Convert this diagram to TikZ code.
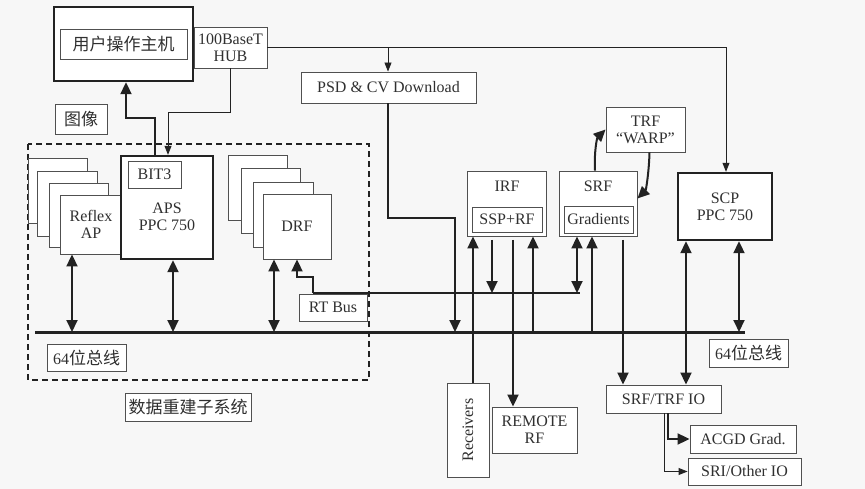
\documentclass[tikz,border=0pt]{standalone}
\usepackage{fontspec}
\setmainfont{Liberation Serif}
\newfontfamily\cjk{Noto Sans CJK SC}
\usetikzlibrary{arrows.meta}
\definecolor{bgc}{HTML}{F7F7F7}
\definecolor{lcol}{HTML}{222222}
\definecolor{bcol}{HTML}{505050}
\definecolor{tcol}{HTML}{303030}
\newcommand\zh{\cjk\fontsize{17}{18}\selectfont}
\newcommand\mkbox[7]{\node[#1, minimum width={(#5-#3)*1pt}, minimum height={(#6-#4)*1pt}] (#2) at ({(#3+#5)/2},{(#4+#6)/2}) {#7};}
\tikzset{
  box/.style={draw=bcol, line width=0.9pt, fill=white, text=tcol, inner sep=0pt, align=center, font=\fontsize{16}{17}\selectfont},
  bbox/.style={box, draw=lcol, line width=2.4pt},
  lbl/.style={text=tcol, inner sep=0pt, align=center, font=\fontsize{16}{17}\selectfont},
  ln/.style={draw=lcol, line width=0.9pt},
  tk/.style={draw=lcol, line width=2pt},
  busline/.style={draw=lcol, line width=3pt},
  tip/.style={-{Triangle[length=12pt,width=11pt]}},
  ttip/.style={-{Triangle[length=9pt,width=7pt]}},
  dtip/.style={{Triangle[length=12pt,width=11pt]}-{Triangle[length=12pt,width=11pt]}},
  dashbox/.style={draw=lcol, line width=1.2pt, dash pattern=on 6pt off 4pt},
}
\begin{document}
\begin{tikzpicture}[x=1pt,y=-1pt]
\fill[bgc] (0,0) rectangle (865,489);
\useasboundingbox (0,0) rectangle (865,489);
% column / row coordinates
\coordinate (cA) at (72,0);  \coordinate (cB) at (173,0); \coordinate (cC) at (274,0);
\coordinate (cD) at (297,0); \coordinate (cE) at (313,0); \coordinate (cF) at (388,0);
\coordinate (cG) at (455,0); \coordinate (cH) at (473,0); \coordinate (cI) at (492,0);
\coordinate (cJ) at (513,0); \coordinate (cK) at (533,0); \coordinate (cL) at (577,0);
\coordinate (cM) at (592,0); \coordinate (cN) at (623,0); \coordinate (cO) at (686,0);
\coordinate (cP) at (739,0); \coordinate (cQ) at (726,0); \coordinate (cR) at (668,0);
\coordinate (cS) at (664,0); \coordinate (cT) at (230,0); \coordinate (cU) at (168,0);
\coordinate (cV) at (155,0); \coordinate (cW) at (126,0);
\coordinate (r112) at (0,112); \coordinate (r118) at (0,118); \coordinate (r218) at (0,218);
\coordinate (r240) at (0,240); \coordinate (r277) at (0,277);
\coordinate (busL) at (35,332); \coordinate (busR) at (745,332);
\coordinate (rtL) at (313,293); \coordinate (rtR) at (580,293);

% dashed subsystem frame
\draw[dashbox] (28,144) rectangle (369,380);

% boxes
\mkbox{bbox}{host}{54}{7}{193}{81}{}
\mkbox{box}{hostin}{60}{29}{187}{59}{\zh 用户操作主机}
\mkbox{box}{hub}{194}{27}{267}{68}{100BaseT\\HUB}
\mkbox{box}{img}{55}{104}{107}{134}{\zh 图像}
\mkbox{box}{b1}{28}{158}{87}{223}{}
\mkbox{box}{b2}{37}{171}{97}{236}{}
\mkbox{box}{b3}{49}{183}{108}{247}{}
\mkbox{box}{b4}{60}{195}{122}{254}{Reflex\\AP}
\mkbox{bbox}{aps}{121}{156}{213}{259}{}
\node[lbl] (apst) at (167,217) {APS\\PPC 750};
\mkbox{box}{bit}{128}{161}{181}{188}{BIT3}
\mkbox{box}{d1}{228}{155}{287}{220}{}
\mkbox{box}{d2}{241}{168}{300}{233}{}
\mkbox{box}{d3}{253}{182}{313}{247}{}
\mkbox{box}{d4}{263}{194}{331}{259}{DRF}
\mkbox{box}{rtb}{299}{294}{367}{321}{RT Bus}
\mkbox{box}{busl1}{47}{344}{126}{371}{64{\zh 位总线}}
\mkbox{box}{drs}{125}{393}{251}{421}{\zh 数据重建子系统}
\mkbox{box}{psd}{301}{72}{476}{103}{PSD \& CV Download}
\mkbox{box}{irf}{467}{171}{546}{236}{}
\node[lbl] (irft) at (507,186) {IRF};
\mkbox{box}{ssp}{472}{207}{542}{232}{SSP+RF}
\mkbox{box}{srf}{559}{171}{637}{236}{}
\node[lbl] (srft) at (598,186) {SRF};
\mkbox{box}{grad}{564}{206}{633}{233}{Gradients}
\mkbox{box}{trf}{606}{107}{685}{152}{TRF\\“WARP”}
\mkbox{bbox}{scp}{678}{173}{772}{240}{SCP\\PPC 750}
\mkbox{box}{rec}{447}{383}{489}{477}{}
\node[lbl, rotate=90] (rect) at (468,430) {Receivers};
\mkbox{box}{remote}{492}{407}{577}{453}{REMOTE\\RF}
\mkbox{box}{srfio}{606}{385}{721}{413}{SRF/TRF IO}
\mkbox{box}{busl2}{709}{339}{788}{367}{64{\zh 位总线}}
\mkbox{box}{acgd}{690}{425}{796}{453}{ACGD Grad.}
\mkbox{box}{sri}{688}{458}{801}{485}{SRI/Other IO}

% buses
\draw[busline] (busL) -- (busR);
\draw[tk] (rtL) -- (rtR);

% host / hub connections
\draw[ln,ttip] (hub.east) -- (hub.east -| cQ) -- (scp.north -| cQ);
\draw[ln,ttip] (hub.east -| cF) -- (psd.north -| cF);
\draw[ln,ttip] (hub.south -| cT) -- (cT |- r112) -- (cU |- r112) -- (aps.north -| cU);
\draw[tk,tip] (aps.north -| cV) -- (cV |- r118) -- (cW |- r118) -- (host.south -| cW);
\draw[tk,tip] (psd.south -| cF) -- (cF |- r218) -- (cG |- r218) -- (busL -| cG);

% subsystem to bus
\draw[tk,dtip] (b4.south -| cA) -- (busL -| cA);
\draw[tk,dtip] (aps.south -| cB) -- (busL -| cB);
\draw[tk,dtip] (d4.south -| cC) -- (busL -| cC);
\draw[tk,tip] (rtL) -- (cE |- r277) -- (cD |- r277) -- (d4.south -| cD);

% IRF / SRF
\draw[tk,tip] (rec.north -| cH) -- (irf.south -| cH);
\draw[tk,tip] (cI |- r240) -- (rtL -| cI);
\draw[tk,tip] (cJ |- r240) -- (remote.north -| cJ);
\draw[tk,tip] (busL -| cK) -- (irf.south -| cK);
\draw[tk,dtip] (srf.south -| cL) -- (rtL -| cL);
\draw[tk,tip] (busL -| cM) -- (srf.south -| cM);
\draw[tk,tip] (cN |- r240) -- (srfio.north -| cN);
\draw[tk,dtip] (scp.south -| cO) -- (srfio.north -| cO);
\draw[tk,dtip] (scp.south -| cP) -- (busL -| cP);
\draw[tk,tip] ([xshift=-3pt]srf.north) .. controls (594,152) and (597,138) .. (trf.west);
\draw[tk,tip] ([xshift=4pt]trf.south) .. controls (649,172) and (646,190) .. ([yshift=5pt]srf.east);

% IO fan-out
\draw[tk,tip] (srfio.south -| cR) -- (acgd.west -| cR) -- (acgd.west);
\draw[ln,ttip] (srfio.south -| cS) -- (sri.west -| cS) -- (sri.west);
\end{tikzpicture}
\end{document}
